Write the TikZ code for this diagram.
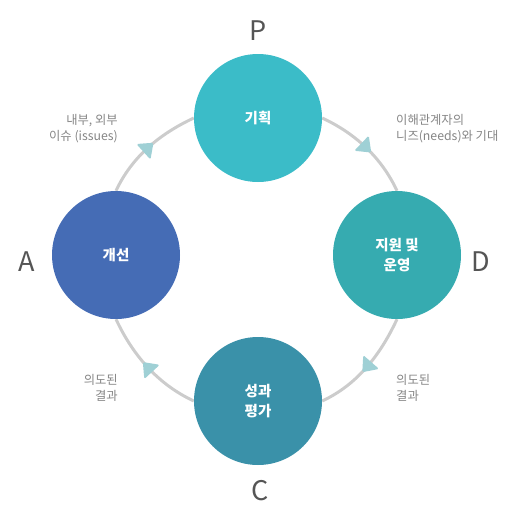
\documentclass[tikz,border=0pt]{standalone}
\usepackage{fontspec}
\setmainfont{Noto Sans CJK KR}
\usetikzlibrary{positioning,backgrounds,decorations.markings}
\definecolor{pcyan}{HTML}{3BBCC8}
\definecolor{dteal}{HTML}{36ABB0}
\definecolor{cteal}{HTML}{3A91A9}
\definecolor{ablue}{HTML}{456CB5}
\definecolor{ringgray}{HTML}{CCCCCC}
\definecolor{tipteal}{HTML}{9FD0D5}
\definecolor{notegray}{HTML}{858585}
\definecolor{lettergray}{HTML}{555555}

\begin{document}
\begin{tikzpicture}[x=1pt,y=-1pt,
    stage/.style={circle,on grid,minimum size=128pt,inner sep=0pt,align=center,text=white,
      font=\fontsize{14.5}{20}\selectfont\bfseries},
    letter/.style={text=lettergray,font=\fontsize{27}{30}\selectfont},
    note/.style={text=notegray,inner sep=0pt,font=\fontsize{12.3}{16}\selectfont},
    ring/.style={draw=ringgray,line width=3pt,looseness=0.9,postaction={decorate},
      decoration={markings,mark=at position 0.5 with
        {\fill[tipteal,rounded corners=1.5pt] (7pt,0pt) -- (-6.5pt,10.5pt) -- (-6.5pt,-10.5pt) -- cycle;}}}]
    \useasboundingbox (0,0) rectangle (523,517);
    \node[stage,fill=pcyan] (plan) at (258,118) {기획};
    \node[stage,fill=dteal,below right=137pt and 139pt of plan] (run) {지원 및\\운영};
    \node[stage,fill=cteal,below=283pt of plan] (check) {성과\\평가};
    \node[stage,fill=ablue,below left=137pt and 142pt of plan] (act) {개선};
    \node[letter] (lp) at (258,31) {P};
    \node[letter] (ld) at (481,262) {D};
    \node[letter] (lc) at (260,491) {C};
    \node[letter] (la) at (27,262) {A};
    \node[note,anchor=east,align=right] (issues) at (118,129) {내부, 외부\\이슈 (issues)};
    \node[note,anchor=west,align=left] (needs) at (396,129) {이해관계자의\\니즈(needs)와 기대};
    \node[note,anchor=west,align=left] (outr) at (396,388) {의도된\\결과};
    \node[note,anchor=east,align=right] (outl) at (118,388) {의도된\\결과};
    \begin{scope}[on background layer]
      \draw[ring] (plan.east) to[out=-25,in=115] (run.north);
      \draw[ring] (run.south) to[out=-115,in=25] (check.east);
      \draw[ring] (check.west) to[out=155,in=-65] (act.south);
      \draw[ring] (act.north) to[out=65,in=-155] (plan.west);
    \end{scope}
  \end{tikzpicture}
\end{document}
